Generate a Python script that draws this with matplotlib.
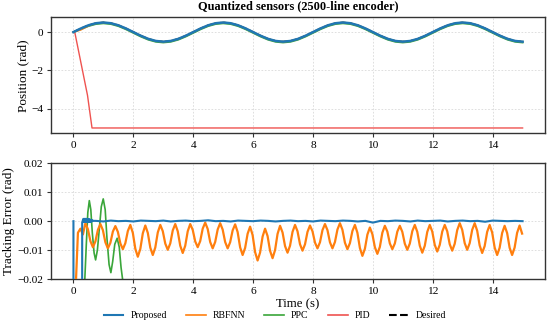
import matplotlib
matplotlib.use("Agg")
import matplotlib.pyplot as plt
import numpy as np

plt.rcParams['font.family'] = ['Liberation Serif', 'DejaVu Serif']
plt.rcParams['mathtext.fontset'] = 'stix'

# ---- position (rad), sampled every 0.25 s ----
t_pos = np.arange(61) * 0.25
pos_desired = [0, .191, .354, .462, .5, .462, .354, .191, 0, -.191, -.354, -.462, -.5, -.462, -.354, -.191,
               0, .191, .354, .462, .5, .462, .354, .191, 0, -.191, -.354, -.462, -.5, -.462, -.354, -.191,
               0, .191, .354, .462, .5, .462, .354, .191, 0, -.191, -.354, -.462, -.5, -.462, -.354, -.191,
               0, .191, .354, .462, .5, .462, .354, .191, 0, -.191, -.354, -.462, -.5]
pos_proposed = list(pos_desired)
pos_rbfnn = [0, .12, .33] + pos_desired[3:]
pos_ppc = [0, .15, .31, .417, .455, .417, .309, .146, -.045, -.236, -.399, -.507, -.545, -.507, -.399, -.236,
           -.045, .146, .309, .417, .455, .417, .309, .146, -.045, -.236, -.399, -.507, -.545, -.507, -.399, -.236,
           -.045, .146, .309, .417, .455, .417, .309, .146, -.045, -.236, -.399, -.507, -.545, -.507, -.399, -.236,
           -.045, .146, .309, .417, .455, .417, .309, .146, -.045, -.236, -.399, -.507, -.545]
t_pid = [0, 0.05, 0.47, 0.62, 15.0]
pos_pid = [0, -0.05, -3.3, -5.0, -5.0]

# ---- tracking error (mrad) ----
t_err_prop = [0.0, 0.002, 0.288, 0.292, 0.33, 0.345, 0.36, 0.375, 0.39, 0.405, 0.42, 0.435, 0.45, 0.465,
              0.48, 0.495, 0.51, 0.525, 0.54, 0.555, 0.57, 0.585, 0.6, 0.615, 0.63, 0.65] + \
             list(np.arange(0.75, 15.01, 0.25))
err_prop = [0, -80, -80, -0.5, 0.8, -0.2, 0.8, -0.2, 0.8, -0.2, 0.8, -0.2, 0.8, -0.2,
            0.7, -0.2, 0.7, -0.2, 0.6, -0.2, 0.5, -0.2, 0.4, -0.1, 0.3, 0.1,
            0.1, -0.1, 0.2, 0.0, 0.1, -0.1, 0.2, 0.1, 0.0, 0.2, -0.1, 0.1, 0.2, 0.0, 0.1, 0.3,
            0.0, 0.1, -0.1, 0.2, 0.1, 0.0, 0.2, 0.1, -0.1, 0.1, 0.2, 0.0, 0.1, -0.1, 0.2, 0.1,
            0.0, 0.2, 0.1, -0.1, 0.1, -0.5, 0.1, 0.0, 0.2, 0.1, -0.1, 0.2, 0.0, 0.1, 0.2, -0.1,
            0.1, 0.2, 0.0, 0.1, -0.2, 0.2, 0.1, 0.0, 0.1, 0.0]

t_err_rbf = 0.4 + (np.arange(180) - 4) / 12
err_rbf = [-25, -4.0, -2.6, -4.6,
           -0.7, -2.8, -6.9, -9.0, -7.0, -3.0,
           -1.0, -3.1, -7.3, -9.4, -7.5, -3.6,
           -1.7, -3.7, -7.7, -9.7, -7.6, -3.4,
           -1.3, -4.05, -9.55, -12.3, -9.6, -4.2,
           -1.5, -4.05, -9.15, -11.7, -9.1, -3.9,
           -1.3, -3.45, -7.75, -9.9, -7.7, -3.2,
           -1.0, -3.5, -8.5, -11.0, -8.5, -3.5,
           -1.0, -3.0, -7.0, -9.0, -6.9, -2.6,
           -0.5, -2.7, -7.2, -9.4, -7.2, -2.9,
           -0.7, -2.9, -7.2, -9.4, -7.3, -3.2,
           -1.1, -3.75, -9.05, -11.7, -9.25, -4.35,
           -1.9, -4.8, -10.7, -13.6, -10.85, -5.35,
           -2.6, -5.15, -10.25, -12.8, -10.0, -4.4,
           -1.6, -3.9, -8.6, -10.9, -8.5, -3.7,
           -1.3, -3.5, -8.0, -10.2, -8.0, -3.7,
           -1.5, -3.5, -7.4, -9.4, -7.3, -3.1,
           -1.0, -3.1, -7.3, -9.4, -7.2, -2.9,
           -0.7, -2.95, -7.45, -9.7, -7.6, -3.4,
           -1.3, -4.0, -9.3, -12.0, -9.55, -4.65,
           -2.2, -4.5, -9.0, -11.3, -8.9, -4.0,
           -1.6, -3.6, -7.7, -9.7, -7.7, -3.6,
           -1.6, -3.7, -7.8, -9.9, -7.75, -3.45,
           -1.3, -3.7, -8.5, -10.9, -8.5, -3.7,
           -1.3, -3.6, -8.2, -10.5, -8.2, -3.6,
           -1.3, -3.5, -8.0, -10.2, -7.8, -3.1,
           -0.7, -3.0, -7.6, -9.9, -7.6, -3.0,
           -0.7, -3.3, -8.4, -11.0, -8.6, -3.7,
           -1.3, -3.9, -9.1, -11.7, -9.2, -4.1,
           -1.6, -4.1, -9.2, -11.7, -9.15, -4.05,
           -1.5, -4.3]

t_err_ppc = [0.30, 0.38, 0.43, 0.48, 0.53, 0.58, 0.63, 0.69, 0.74, 0.80, 0.87, 0.93, 0.995, 1.06,
             1.12, 1.19, 1.25, 1.31, 1.38, 1.46, 1.53, 1.59, 1.64, 1.75, 2.0, 15.0]
err_ppc = [-45, -20, -8, 3, 7.1, 4, -4, -11, -13.4, -10, -2, 5, 7.7, 4,
           -6, -15, -17.8, -14, -8, -5.9, -9, -16, -20, -35, -45, -45]

c_prop, c_rbf, c_ppc, c_pid = '#1f77b4', '#ff7f0e', '#3aa63a', '#ef5350'

fig = plt.figure(figsize=(5.5, 3.25), dpi=100)
ax1 = fig.add_axes([0.0927, 0.590, 0.8983, 0.357])
ax2 = fig.add_axes([0.0927, 0.1415, 0.8983, 0.356])

ax1.plot(t_pos, pos_desired, '--', color='black', lw=1.2, zorder=1)
ax1.plot(t_pid, pos_pid, color=c_pid, lw=1.0, zorder=2)
ax1.plot(t_pos, pos_ppc, color=c_ppc, lw=1.3, zorder=3)
ax1.plot(t_pos, pos_rbfnn, color=c_rbf, lw=1.2, zorder=4)
ax1.plot(t_pos, pos_proposed, color=c_prop, lw=1.8, zorder=5)
ax1.set_ylabel('Position (rad)', fontsize=9.5, labelpad=1.5)
ax1.set_title('Quantized sensors (2500-line encoder)', fontsize=8.8, fontweight='bold', pad=6)
ax1.set_yticks([-4, -2, 0])
ax1.set_xticks(range(0, 15, 2))

ax2.plot(t_err_ppc, np.array(err_ppc) * 1e-3, color=c_ppc, lw=1.2, zorder=2)
ax2.plot(t_err_rbf, np.array(err_rbf) * 1e-3, color=c_rbf, lw=1.6, zorder=3)
ax2.plot(t_err_prop, np.array(err_prop) * 1e-3, color=c_prop, lw=1.5, zorder=4)
ax2.set_xlim(ax1.get_xlim())
ax2.set_ylim(-0.02, 0.02)
ax2.set_yticks([-0.02, -0.01, 0.0, 0.01, 0.02])
ax2.set_xticks(range(0, 15, 2))
ax2.set_ylabel('Tracking Error (rad)', fontsize=9.5, labelpad=1.5)
ax2.set_xlabel('Time (s)', fontsize=9.2, labelpad=2)

for ax in (ax1, ax2):
    ax.grid(True, ls=(0, (2, 2)), color='#d9d9d9', lw=0.6)
    ax.tick_params(labelsize=8.2, length=3, width=0.8, pad=2.5, color='#333333')
    for s in ax.spines.values():
        s.set_color('#333333')
        s.set_linewidth(1.0)

handles = [plt.Line2D([], [], color=c_prop, lw=1.5),
           plt.Line2D([], [], color=c_rbf, lw=1.2),
           plt.Line2D([], [], color=c_ppc, lw=1.2),
           plt.Line2D([], [], color=c_pid, lw=1.2),
           plt.Line2D([], [], color='black', ls='--', lw=1.5)]
fig.legend(handles, ['Proposed', 'RBFNN', 'PPC', 'PID', 'Desired'], loc='center',
           bbox_to_anchor=(0.5, 0.028), ncol=5, frameon=False, fontsize=7,
           handlelength=2.05, columnspacing=1.95, handletextpad=0.72, borderaxespad=0)

fig.savefig('out.png', dpi=100)
